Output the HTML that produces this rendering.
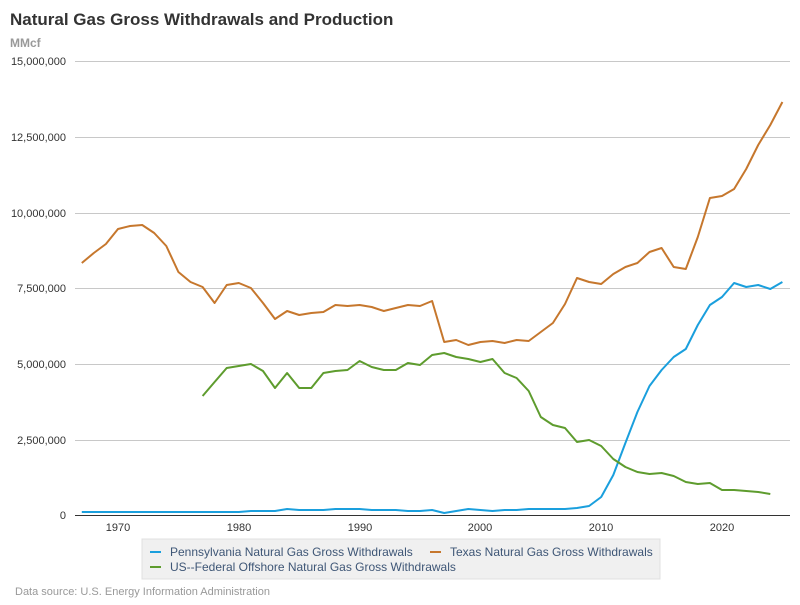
<!DOCTYPE html>
<html><head><meta charset="utf-8"><style>
body{margin:0;background:#fff;width:800px;height:600px;overflow:hidden;font-family:"Liberation Sans",sans-serif}
</style></head><body>
<svg id="s" width="800" height="600" xmlns="http://www.w3.org/2000/svg" font-family="Liberation Sans, sans-serif">
<text x="10" y="25" font-size="17" font-weight="bold" fill="#333">Natural Gas Gross Withdrawals and Production</text>
<text x="10" y="47" font-size="12" font-weight="bold" fill="#999">MMcf</text>
<g stroke="#c8c8c8" stroke-width="1">
<line x1="75" x2="790" y1="61.5" y2="61.5"/><line x1="75" x2="790" y1="137.5" y2="137.5"/><line x1="75" x2="790" y1="213.5" y2="213.5"/><line x1="75" x2="790" y1="288.5" y2="288.5"/><line x1="75" x2="790" y1="364.5" y2="364.5"/><line x1="75" x2="790" y1="440.5" y2="440.5"/>
</g>
<line x1="75" x2="790" y1="515.5" y2="515.5" stroke="#333" stroke-width="1"/>
<g font-size="11" fill="#333" text-anchor="end">
<text x="66" y="65">15,000,000</text><text x="66" y="141">12,500,000</text><text x="66" y="217">10,000,000</text><text x="66" y="292">7,500,000</text><text x="66" y="368">5,000,000</text><text x="66" y="444">2,500,000</text><text x="66" y="519">0</text>
</g>
<g font-size="11" fill="#333" text-anchor="middle">
<text x="118" y="531">1970</text><text x="239" y="531">1980</text><text x="360" y="531">1990</text><text x="480" y="531">2000</text><text x="601" y="531">2010</text><text x="722" y="531">2020</text>
</g>
<g id="lines" fill="none" stroke-width="2" stroke-linejoin="round"></g>
<rect x="142" y="539" width="518" height="40" fill="#f0f0f0" stroke="#e0e0e0"/>
<line x1="150" x2="161" y1="552" y2="552" stroke="#1a9fdd" stroke-width="2"/>
<text x="170" y="556" font-size="12" fill="#3e5676">Pennsylvania Natural Gas Gross Withdrawals</text>
<line x1="430" x2="441" y1="552" y2="552" stroke="#c6772d" stroke-width="2"/>
<text x="450" y="556" font-size="12" fill="#3e5676">Texas Natural Gas Gross Withdrawals</text>
<line x1="150" x2="161" y1="567" y2="567" stroke="#5e9c2e" stroke-width="2"/>
<text x="170" y="571" font-size="12" fill="#3e5676">US--Federal Offshore Natural Gas Gross Withdrawals</text>
<text x="15" y="595" font-size="11" fill="#999">Data source: U.S. Energy Information Administration</text>
</svg>
<script>
var tx=[263,253,244,229,226,225,233,246,272,282,287,303,285,283,288,303,319,311,315,313,312,305,306,305,307,311,308,305,306,301,342,340,345,342,341,343,340,341,332,323,304,278,282,284,274,267,263,252,248,267,269,237,198,196,189,169,145,125,102];
var of=[396,382,368,366,364,371,388,373,388,388,373,371,370,361,367,370,370,363,365,355,353,357,359,362,359,373,378,391,417,425,428,442,440,446,459,467,472,474,473,476,482,484,483,490,490,491,492,494];
var pa=[512,512,512,512,512,512,512,512,512,512,512,512,512,512,511,511,511,509,510,510,510,509,509,509,510,510,510,511,511,510,513,511,509,510,511,510,510,509,509,509,509,508,506,497,475,443,412,386,370,357,349,325,305,297,283,287,285,289,282];
function X(y){return 118+(y-1970)*12.08;}
function pl(a,start,c){var p=a.map(function(v,i){return X(start+i).toFixed(1)+","+v}).join(" ");
var e=document.createElementNS("http://www.w3.org/2000/svg","polyline");e.setAttribute("points",p);e.setAttribute("stroke",c);document.getElementById("lines").appendChild(e);}
pl(pa,1967,"#1a9fdd");pl(tx,1967,"#c6772d");pl(of,1977,"#5e9c2e");
</script>
</body></html>
